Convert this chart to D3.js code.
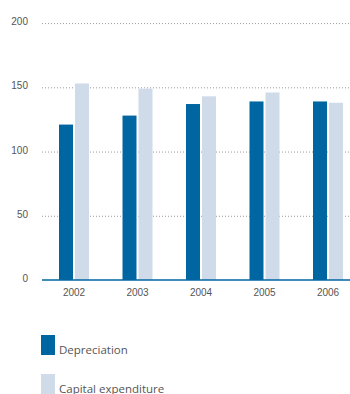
<!DOCTYPE html>
<html>
<head>
<meta charset="utf-8">
<script src="https://cdn.jsdelivr.net/npm/d3@7"></script>
<style>
  html, body { margin: 0; padding: 0; background: #fff; }
  svg { display: block; font-family: "Open Sans", sans-serif; }
</style>
</head>
<body>
<svg id="chart" width="350" height="394"></svg>
<script>
// Depreciation vs. capital expenditure by year
const years = ["2002", "2003", "2004", "2005", "2006"];
const series = ["Depreciation", "Capital expenditure"];
const depreciation = [121, 128, 137, 139, 139];
const capitalExpenditure = [153, 149, 143, 146, 138];
const yTicks = [0, 50, 100, 150, 200];

const colors = { "Depreciation": "#0066a1", "Capital expenditure": "#d0dbea" };
const values = { "Depreciation": depreciation, "Capital expenditure": capitalExpenditure };

const svg = d3.select("#chart");
const plotLeft = 42, plotRight = 350, plotTop = 23.1, plotBottom = 280;

const y = d3.scaleLinear().domain([0, 200]).range([plotBottom, plotTop]);
const x0 = d3.scaleBand().domain(years).range([42.25, 359.75]).paddingInner(0).paddingOuter(0);
const x1 = d3.scaleBand().domain(series).range([-15, 15]).paddingInner(0.125).paddingOuter(0);

// Y axis with dotted gridlines
const yAxis = svg.append("g")
  .attr("transform", `translate(${plotLeft},0)`)
  .call(d3.axisLeft(y).tickValues(yTicks).tickSize(-(plotRight - plotLeft)).tickPadding(14));
yAxis.select(".domain").remove();
yAxis.selectAll(".tick line")
  .attr("stroke", "#9a9a9a")
  .attr("stroke-dasharray", "1,2")
  .attr("stroke-opacity", d => d === 0 ? 0 : 1);
yAxis.selectAll(".tick text")
  .attr("fill", "#555")
  .attr("font-size", "10px")
  .attr("dy", "0.15em");

// Bars
const groups = svg.append("g").selectAll("g")
  .data(years)
  .join("g")
  .attr("transform", d => `translate(${x0(d) + x0.bandwidth() / 2},0)`);

groups.selectAll("rect")
  .data((yr, i) => series.map(s => ({ s, v: values[s][i] })))
  .join("rect")
  .attr("x", d => x1(d.s))
  .attr("width", x1.bandwidth())
  .attr("y", d => y(d.v))
  .attr("height", d => y(0) - y(d.v))
  .attr("fill", d => colors[d.s]);

// Baseline
svg.append("line")
  .attr("x1", plotLeft).attr("x2", plotRight)
  .attr("y1", y(0)).attr("y2", y(0))
  .attr("stroke", "#0066a1")
  .attr("stroke-width", 1.6);

// X axis labels
const xAxis = svg.append("g")
  .attr("transform", `translate(0,${plotBottom})`)
  .call(d3.axisBottom(x0).tickSize(0).tickPadding(8.5));
xAxis.select(".domain").remove();
xAxis.selectAll(".tick text")
  .attr("fill", "#555")
  .attr("font-size", "10px");

// Legend
const legend = svg.append("g").selectAll("g")
  .data(series)
  .join("g")
  .attr("transform", (d, i) => `translate(41,${335 + i * 39})`);
legend.append("rect")
  .attr("width", 14).attr("height", 20)
  .attr("fill", d => colors[d]);
legend.append("text")
  .attr("x", 18).attr("y", 18.5)
  .attr("fill", "#555")
  .attr("font-size", "11.5px")
  .text(d => d);
</script>
</body>
</html>
